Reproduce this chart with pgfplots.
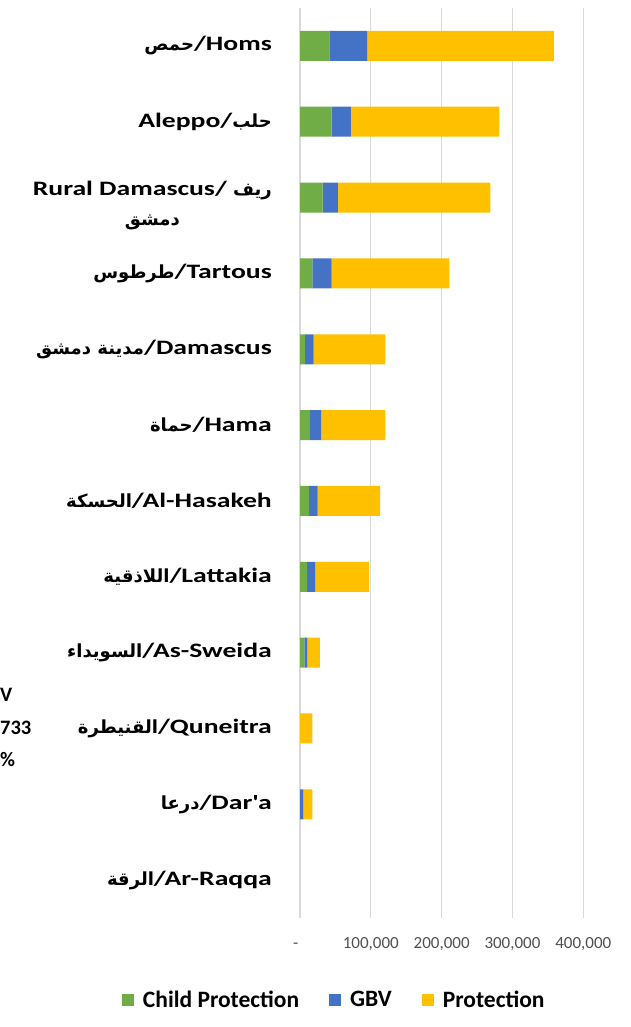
\documentclass[border=0pt]{standalone}
\usepackage{pgfplots}
\pgfplotsset{compat=1.18}
\usepackage{pgfplotstable}
\usepackage{fontspec}
\setmainfont{Carlito}
\newfontfamily\labelfont{Carlito}[FakeStretch=1.35]
\newfontfamily\arabicfont{DejaVu Sans}[Script=Arabic, Scale=0.88]
\TeXXeTstate=1
\definecolor{cpg}{HTML}{70AD47}
\definecolor{gbvb}{HTML}{4472C4}
\definecolor{proty}{HTML}{FFC000}
\definecolor{gridg}{HTML}{D9D9D9}
\definecolor{tickg}{HTML}{505050}
\pgfplotsset{sqlegend/.style={legend image code/.code={\fill[##1] (0pt,-6pt) rectangle (12pt,6pt); \path (19pt,0pt);}}}

\pgfplotstableread{
idx cp gbv prot
0 41400 53600 263600
1 44700 27300 209400
2 32000 21600 215100
3 17400 27300 166100
4 7000 12300 101100
5 14000 16000 90400
6 12700 12300 88000
7 9900 11300 76200
8 6000 4400 17800
9 0 0 17400
10 0 4700 12700
11 0 0 0
}\data

\begin{document}
\begin{tikzpicture}
\useasboundingbox (0,0) rectangle (630pt,1027pt);
\clip (0,0) rectangle (630pt,1027pt);
\begin{axis}[
  at={(300pt,109pt)}, anchor=south west,
  scale only axis, width=283.3pt, height=910pt,
  xbar stacked, bar width=30pt,
  y dir=reverse,
  xmin=0, xmax=400000, ymin=-0.5, ymax=11.5,
  scaled x ticks=false,
  xtick={0,100000,200000,300000,400000},
  xticklabels={{-\phantom{0}},{100,000},{200,000},{300,000},{400,000}},
  ytick={0,1,2,3,4,5,6,7,8,9,10,11},
  yticklabels={
    {{\arabicfont\bfseries\beginR حمص\endR}/Homs},
    {Aleppo/{\arabicfont\bfseries\beginR حلب\endR}},
    {\raisebox{-12pt}[0pt][0pt]{\begin{tabular}{@{}c@{}}Rural Damascus/ {\arabicfont\bfseries\beginR ريف\endR}\\{\arabicfont\bfseries\beginR دمشق\endR}\end{tabular}}},
    {{\arabicfont\bfseries\beginR طرطوس\endR}/Tartous},
    {{\arabicfont\bfseries\beginR مدينة دمشق\endR}/Damascus},
    {{\arabicfont\bfseries\beginR حماة\endR}/Hama},
    {{\arabicfont\bfseries\beginR الحسكة\endR}/Al-Hasakeh},
    {{\arabicfont\bfseries\beginR اللاذقية\endR}/Lattakia},
    {{\arabicfont\bfseries\beginR السويداء\endR}/As-Sweida},
    {{\arabicfont\bfseries\beginR القنيطرة\endR}/Quneitra},
    {{\arabicfont\bfseries\beginR درعا\endR}/Dar'a},
    {{\arabicfont\bfseries\beginR الرقة\endR}/Ar-Raqqa}},
  axis line style={draw=none},
  major tick length=0pt,
  xmajorgrids, ymajorgrids=false,
  major grid style={gridg, line width=1.3pt},
  xticklabel style={font=\fontsize{17}{20}\selectfont, text=tickg, inner sep=0pt, anchor=north, yshift=-19pt},
  yticklabel style={font=\labelfont\bfseries\fontsize{20.5}{30}\selectfont, align=center, anchor=east, inner sep=0pt, xshift=-28pt},
  legend columns=3,
  legend cell align=left,
  legend style={at={(0.121,-0.0901)}, anchor=center, draw=none, fill=none,
    font=\bfseries\fontsize{23.5}{28}\selectfont,
    /tikz/every even column/.append style={column sep=28pt}},
]
\addplot[fill=cpg, draw=none, sqlegend] table[x=cp, y=idx] {\data};
\addplot[fill=gbvb, draw=none, sqlegend] table[x=gbv, y=idx] {\data};
\addplot[fill=proty, draw=none, sqlegend] table[x=prot, y=idx] {\data};
\legend{Child Protection, GBV, Protection}
\end{axis}
\begin{scope}[every node/.style={anchor=west, inner sep=0pt, font=\bfseries\fontsize{20.5}{25}\selectfont}]
\node at (0pt,332pt) {V};
\node at (0pt,299pt) {733};
\node at (0pt,267pt) {\%};
\end{scope}
\end{tikzpicture}
\end{document}
